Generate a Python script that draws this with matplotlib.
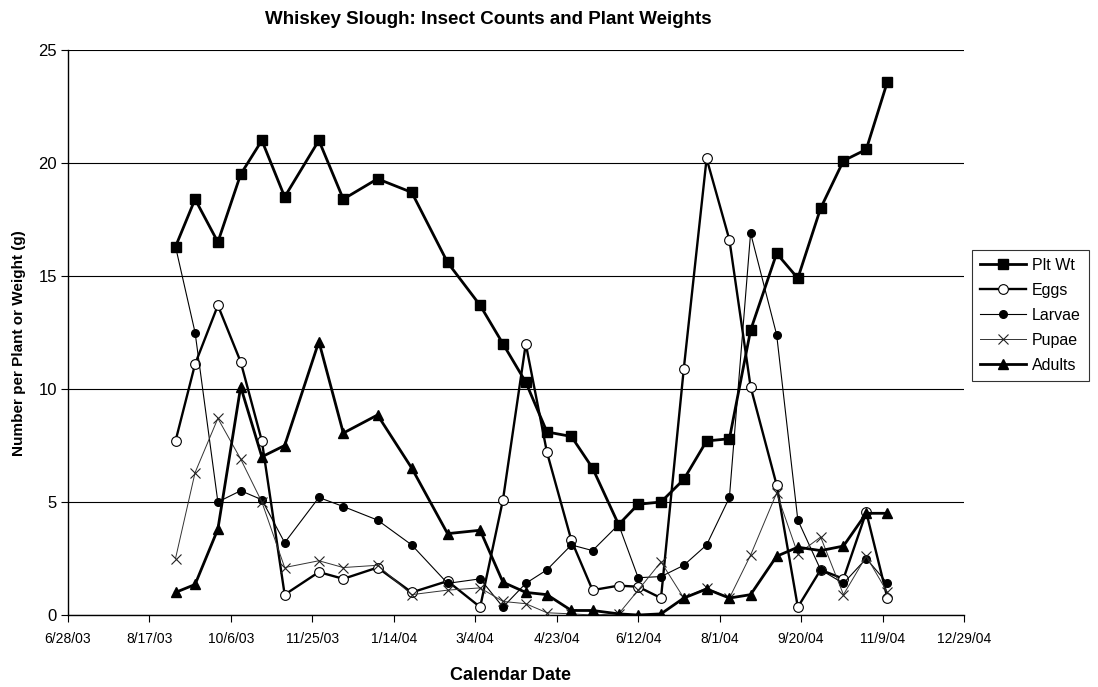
import matplotlib
matplotlib.use("Agg")
import matplotlib.pyplot as plt
import matplotlib.font_manager as fm
import pandas as pd

plt.rcParams['font.family'] = ['Liberation Sans', 'DejaVu Sans']
_names = {f.name for f in fm.fontManager.ttflist}
narrow = 'Liberation Sans Narrow' if 'Liberation Sans Narrow' in _names else 'Liberation Sans'

dates = ["2003-09-02", "2003-09-14", "2003-09-28", "2003-10-12", "2003-10-25",
         "2003-11-08", "2003-11-29", "2003-12-14", "2004-01-04", "2004-01-25",
         "2004-02-16", "2004-03-07", "2004-03-21", "2004-04-04", "2004-04-17",
         "2004-05-02", "2004-05-15", "2004-05-31", "2004-06-12", "2004-06-26",
         "2004-07-10", "2004-07-24", "2004-08-07", "2004-08-20", "2004-09-05",
         "2004-09-18", "2004-10-02", "2004-10-16", "2004-10-30", "2004-11-12"]

plt_wt = [16.3, 18.4, 16.5, 19.5, 21.0, 18.5, 21.0, 18.4, 19.3, 18.7,
          15.6, 13.7, 12.0, 10.3, 8.1, 7.9, 6.5, 4.0, 4.9, 5.0,
          6.0, 7.7, 7.8, 12.6, 16.0, 14.9, 18.0, 20.1, 20.6, 23.6]
eggs = [7.7, 11.1, 13.7, 11.2, 7.7, 0.9, 1.9, 1.6, 2.1, 1.0,
        1.5, 0.35, 5.1, 12.0, 7.2, 3.3, 1.1, 1.3, 1.25, 0.75,
        10.9, 20.2, 16.6, 10.1, 5.75, 0.35, 2.0, 1.6, 4.55, 0.75]
larvae = [16.3, 12.5, 5.0, 5.5, 5.1, 3.2, 5.2, 4.8, 4.2, 3.1,
          1.4, 1.6, 0.35, 1.4, 2.0, 3.1, 2.85, 4.0, 1.65, 1.7,
          2.2, 3.1, 5.2, 16.9, 12.4, 4.2, 2.0, 1.4, 2.5, 1.4]
pupae = [2.5, 6.3, 8.7, 6.9, 5.0, 2.1, 2.4, 2.1, 2.2, 0.9,
         1.1, 1.2, 0.6, 0.5, 0.1, 0.05, 0.0, 0.05, 1.1, 2.35,
         0.75, 1.2, 0.75, 2.65, 5.4, 2.7, 3.45, 0.9, 2.6, 1.0]
adults = [1.0, 1.35, 3.8, 10.1, 7.0, 7.5, 12.1, 8.05, 8.85, 6.5,
          3.6, 3.75, 1.45, 1.0, 0.9, 0.2, 0.2, 0.05, 0.0, 0.05,
          0.75, 1.15, 0.75, 0.9, 2.6, 3.0, 2.85, 3.05, 4.5, 4.5]

tick_dates = ["2003-06-28", "2003-08-17", "2003-10-06", "2003-11-25", "2004-01-14",
              "2004-03-04", "2004-04-23", "2004-06-12", "2004-08-01", "2004-09-20",
              "2004-11-09", "2004-12-29"]
tick_labels = ["6/28/03", "8/17/03", "10/6/03", "11/25/03", "1/14/04", "3/4/04",
               "4/23/04", "6/12/04", "8/1/04", "9/20/04", "11/9/04", "12/29/04"]

x = pd.to_datetime(dates)
xt = pd.to_datetime(tick_dates)

fig = plt.figure(figsize=(10.98, 6.87), dpi=100)
ax = fig.add_axes([68/1098, 1-615/687, (964-68)/1098, (615-50)/687])

ax.plot(x, plt_wt, color='black', lw=2.0, marker='s', ms=6.5, mfc='black', mec='black', label='Plt Wt', zorder=3)
ax.plot(x, eggs, color='black', lw=1.7, marker='o', ms=7, mfc='white', mec='black', mew=0.8, label='Eggs', zorder=4)
ax.plot(x, larvae, color='black', lw=0.8, marker='o', ms=5.5, mfc='black', mec='black', label='Larvae', zorder=5)
ax.plot(x, pupae, color='#333333', lw=0.7, marker='x', ms=7, mew=0.8, mec='#222222', label='Pupae', zorder=6)
ax.plot(x, adults, color='black', lw=2.0, marker='^', ms=6.5, mfc='black', mec='black', label='Adults', zorder=7)

ax.set_xlim(xt[0], xt[-1])
ax.set_ylim(0, 25)
ax.set_xticks(xt)
ax.set_xticklabels(tick_labels, fontsize=10, family=narrow)
ax.set_yticks([0, 5, 10, 15, 20, 25])
ax.tick_params(axis='y', labelsize=12, length=5, direction='out', width=0.8, pad=3)
ax.tick_params(axis='x', length=5, direction='out', width=0.8, pad=7)
ax.yaxis.grid(True, color='black', lw=0.8)
ax.set_axisbelow(True)
for s in ['top', 'right']:
    ax.spines[s].set_visible(False)
for s in ['left', 'bottom']:
    ax.spines[s].set_linewidth(1.0)

ax.set_xlabel('Calendar Date', fontsize=13, fontweight='bold')
ax.xaxis.set_label_coords((510-68)/896, (615-667)/565)
ax.set_ylabel('Number per Plant or Weight (g)', fontsize=11, fontweight='bold')
ax.yaxis.set_label_coords((26-68)/896, (615-343)/565)
fig.text(488/1098, 1-19/687, 'Whiskey Slough: Insect Counts and Plant Weights',
         fontsize=13.5, fontweight='bold', ha='center', va='center')

leg = ax.legend(loc='upper left', bbox_to_anchor=(972/1098, 1-250/687),
                bbox_transform=fig.transFigure, borderaxespad=0, frameon=True, fancybox=False,
                edgecolor='black', fontsize=11.5, handlelength=2.9, labelspacing=0.62,
                borderpad=0.5, handletextpad=0.35)
leg.get_frame().set_linewidth(0.8)

fig.savefig('out.png', dpi=100)
